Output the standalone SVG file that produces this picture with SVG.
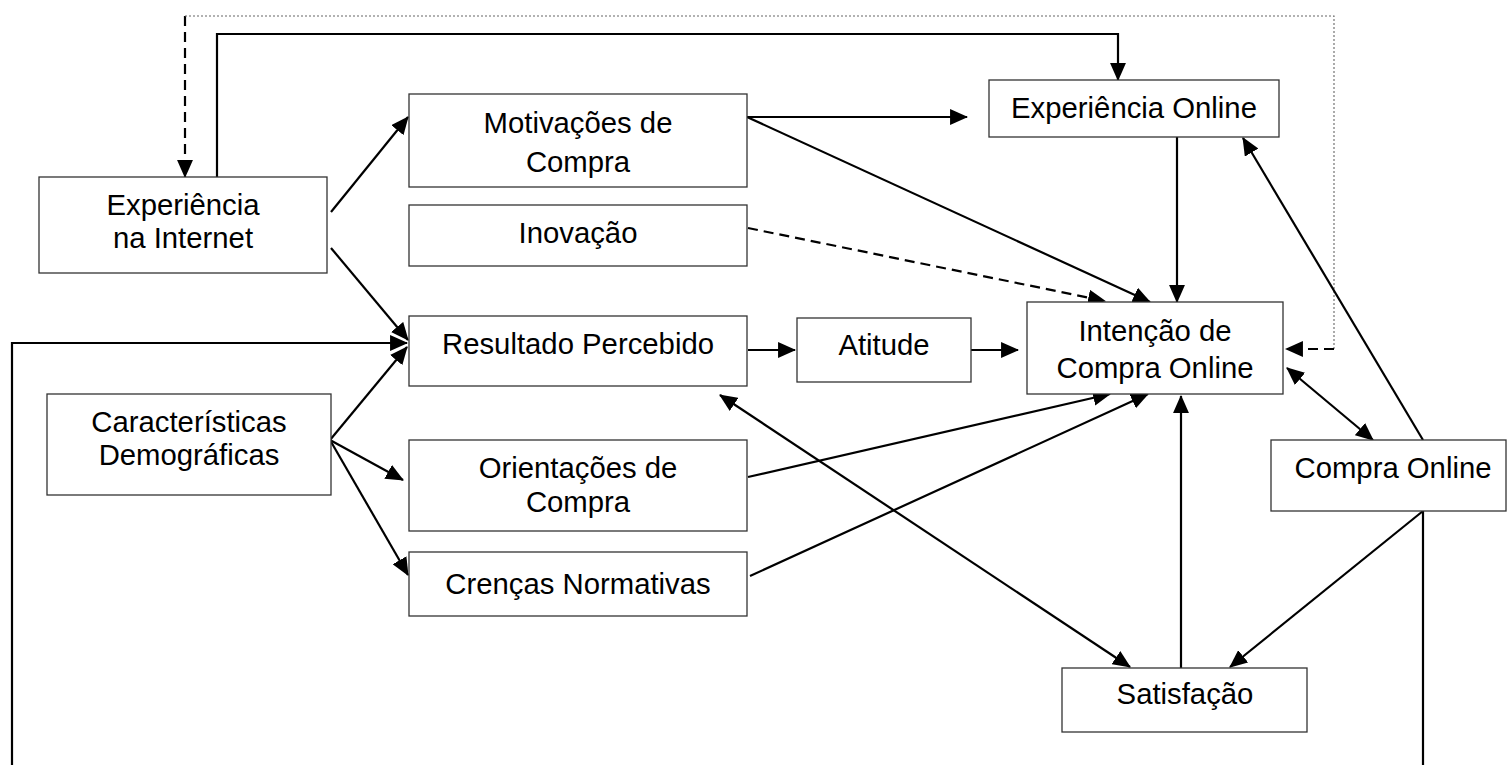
<svg xmlns="http://www.w3.org/2000/svg" width="1509" height="765" viewBox="0 0 1509 765">
<style>
.box{fill:#fff;stroke:#333;stroke-width:1.3}
.t{font-family:"Liberation Sans",Arial,sans-serif;font-size:29.3px;fill:#000;text-anchor:middle}
.c{fill:none;stroke:#000;stroke-width:2.2}
.d{fill:none;stroke:#000;stroke-width:2.2;stroke-dasharray:10,6}
.dot{fill:none;stroke:#666;stroke-width:1.1;stroke-dasharray:2,2}
</style>
<defs>
<marker id="ah" markerUnits="userSpaceOnUse" markerWidth="18" markerHeight="16" refX="16" refY="7.5" orient="auto-start-reverse" viewBox="0 0 17 15">
<path d="M0,0 L17,7.5 L0,15 z" fill="#000"/>
</marker>
</defs>
<rect width="1509" height="765" fill="#fff"/>
<g id="connectors">
<path class="c" d="M331,212 L408,117" marker-end="url(#ah)"/>
<path class="c" d="M331,248 L408,340" marker-end="url(#ah)"/>
<path class="c" d="M1423,511 V772 H12 V343 H407" marker-end="url(#ah)"/>
<path class="c" d="M217,177 V34 H1118 V80" marker-end="url(#ah)"/>
<path class="d" d="M185,16 V177" marker-end="url(#ah)"/>
<path class="dot" d="M185,16 H1334 V349"/>
<path class="d" d="M1334,349 H1286" marker-end="url(#ah)"/>
<path class="c" d="M747,117 H967" marker-end="url(#ah)"/>
<path class="c" d="M747,117 L1150,302" marker-end="url(#ah)"/>
<path class="d" d="M748,228 L1105,301" marker-end="url(#ah)"/>
<path class="c" d="M748,350 H795" marker-end="url(#ah)"/>
<path class="c" d="M971,350 H1018" marker-end="url(#ah)"/>
<path class="c" d="M1177,137 V302" marker-end="url(#ah)"/>
<path class="c" d="M330,440 L407,347" marker-end="url(#ah)"/>
<path class="c" d="M330,440 L403,480" marker-end="url(#ah)"/>
<path class="c" d="M330,440 L408,575" marker-end="url(#ah)"/>
<path class="c" d="M748,477 L1110,394" marker-end="url(#ah)"/>
<path class="c" d="M750,576 L1148,394" marker-end="url(#ah)"/>
<path class="c" d="M720,395 L1130,667" marker-start="url(#ah)" marker-end="url(#ah)"/>
<path class="c" d="M1181,668 V396" marker-end="url(#ah)"/>
<path class="c" d="M1287,368 L1373,440" marker-start="url(#ah)" marker-end="url(#ah)"/>
<path class="c" d="M1423,440 L1243,138" marker-end="url(#ah)"/>
<path class="c" d="M1423,511 L1230,667" marker-end="url(#ah)"/>
</g>
<g id="experiencia-internet">
<rect class="box" x="39" y="177" width="288" height="96"/>
<text class="t" x="183" y="215">Experiência</text>
<text class="t" x="183" y="248">na Internet</text>
</g>
<g id="motivacoes">
<rect class="box" x="409" y="94" width="338" height="93"/>
<text class="t" x="578" y="133">Motivações de</text>
<text class="t" x="578" y="172">Compra</text>
</g>
<g id="inovacao">
<rect class="box" x="409" y="205" width="338" height="61"/>
<text class="t" x="578" y="243">Inovação</text>
</g>
<g id="resultado">
<rect class="box" x="409" y="316" width="338" height="70"/>
<text class="t" x="578" y="354">Resultado Percebido</text>
</g>
<g id="atitude">
<rect class="box" x="797" y="318" width="174" height="64"/>
<text class="t" x="884" y="355">Atitude</text>
</g>
<g id="caracteristicas">
<rect class="box" x="47" y="394" width="284" height="101"/>
<text class="t" x="189" y="432">Características</text>
<text class="t" x="189" y="465">Demográficas</text>
</g>
<g id="orientacoes">
<rect class="box" x="409" y="440" width="338" height="91"/>
<text class="t" x="578" y="478">Orientações de</text>
<text class="t" x="578" y="512">Compra</text>
</g>
<g id="crencas">
<rect class="box" x="409" y="552" width="338" height="64"/>
<text class="t" x="578" y="594">Crenças Normativas</text>
</g>
<g id="experiencia-online">
<rect class="box" x="989" y="80" width="290" height="57"/>
<text class="t" x="1134" y="118">Experiência Online</text>
</g>
<g id="intencao">
<rect class="box" x="1027" y="302" width="256" height="92"/>
<text class="t" x="1155" y="341">Intenção de</text>
<text class="t" x="1155" y="378">Compra Online</text>
</g>
<g id="compra-online">
<rect class="box" x="1271" y="440" width="235" height="71"/>
<text class="t" x="1393" y="478">Compra Online</text>
</g>
<g id="satisfacao">
<rect class="box" x="1062" y="668" width="245" height="64"/>
<text class="t" x="1185" y="704">Satisfação</text>
</g>
</svg>
